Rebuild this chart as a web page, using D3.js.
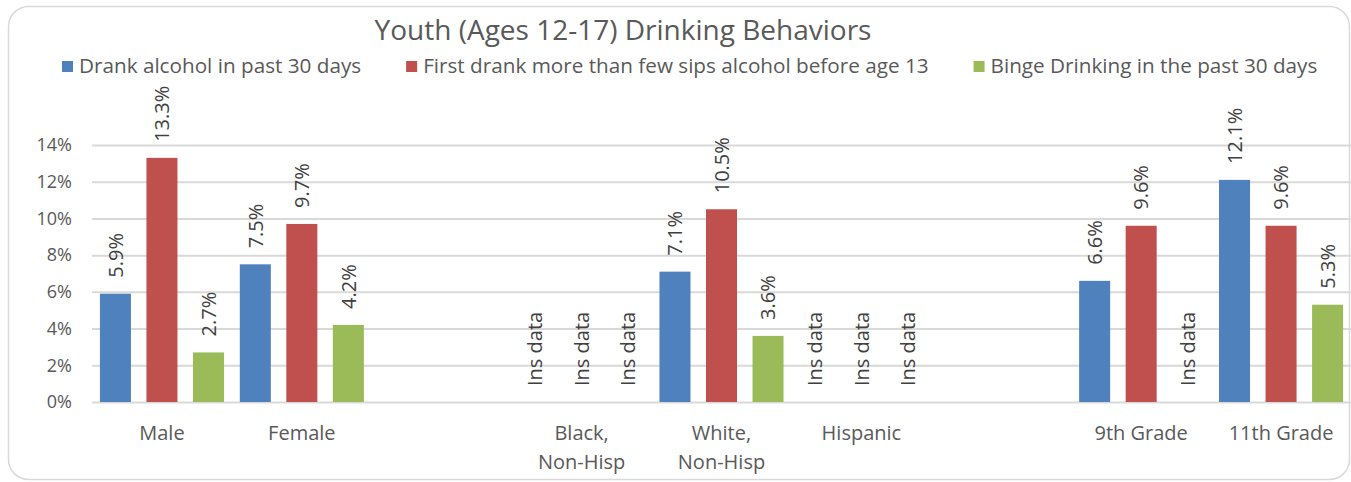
<!DOCTYPE html>
<html>
<head>
<meta charset="utf-8">
<script src="https://cdn.jsdelivr.net/npm/d3@7"></script>
<style>
  body { margin: 0; background: #fff; }
  text { font-family: "Open Sans", sans-serif; }
</style>
</head>
<body>
<div id="chart"></div>
<script>
// categories, "" = empty slot between groups
const categories = ["Male", "Female", "", "Black,\nNon-Hisp", "White,\nNon-Hisp", "Hispanic", "", "9th Grade", "11th Grade"];
const seriesNames = ["Drank alcohol in past 30 days", "First drank more than few sips alcohol before age 13", "Binge Drinking in the past 30 days"];
// values in %, null = insufficient data (or empty slot)
const drankPast30 = [5.9, 7.5, null, null, 7.1, null, null, 6.6, 12.1];
const firstBefore13 = [13.3, 9.7, null, null, 10.5, null, null, 9.6, 9.6];
const bingePast30 = [2.7, 4.2, null, null, 3.6, null, null, null, 5.3];
const yTicks = [0, 2, 4, 6, 8, 10, 12, 14];
const colors = ["#4F81BD", "#C0504D", "#9BBB59"];

const W = 1351, H = 482;
const margin = { top: 145, right: 0, bottom: 80, left: 92 };
const width = W - margin.left - margin.right;
const height = H - margin.top - margin.bottom;

const svg = d3.select("#chart").append("svg")
  .attr("width", W).attr("height", H);

// chart border
svg.append("rect")
  .attr("x", 8.5).attr("y", 6.5)
  .attr("width", 1341).attr("height", 473)
  .attr("rx", 20)
  .attr("fill", "#fff")
  .attr("stroke", "#d9d9d9")
  .attr("stroke-width", 1.5);

const g = svg.append("g")
  .attr("transform", "translate(" + margin.left + "," + margin.top + ")");

const x = d3.scaleBand().domain(d3.range(categories.length)).range([0, width]);
const xs = d3.scaleBand().domain([0, 1, 2]).range([0, x.bandwidth()])
  .paddingInner(1 / 3).paddingOuter(0.17);
const y = d3.scaleLinear().domain([0, 14]).range([height, 0]);

// y axis + gridlines
const yAxis = g.append("g")
  .call(d3.axisLeft(y).tickValues(yTicks).tickSize(-width).tickPadding(20).tickFormat(d => d + "%"));
yAxis.select(".domain").remove();
yAxis.selectAll("line").attr("stroke", "#d9d9d9").attr("stroke-width", 2);
yAxis.selectAll("text")
  .style("font-size", "18px")
  .attr("fill", "#595959");

const series = [drankPast30, firstBefore13, bingePast30];

series.forEach((vals, s) => {
  const grp = g.append("g");
  vals.forEach((v, i) => {
    if (categories[i] === "") return;
    const cx = x(i) + xs(s) + xs.bandwidth() / 2;
    if (v !== null) {
      grp.append("rect")
        .attr("x", x(i) + xs(s))
        .attr("y", y(v))
        .attr("width", xs.bandwidth())
        .attr("height", y(0) - y(v))
        .attr("fill", colors[s]);
    }
    const top = v === null ? y(0) : y(v);
    grp.append("text")
      .attr("transform", "translate(" + cx + "," + (top - 16) + ") rotate(-90)")
      .attr("dy", "0.36em")
      .style("font-size", "20px")
      .attr("fill", "#404040")
      .text(v === null ? "Ins data" : v.toFixed(1) + "%");
  });
});

// category labels
categories.forEach((c, i) => {
  if (c === "") return;
  const t = g.append("text")
    .attr("x", x(i) + x.bandwidth() / 2)
    .attr("y", height + 38)
    .attr("text-anchor", "middle")
    .style("font-size", "20px")
    .attr("fill", "#595959");
  c.split("\n").forEach((line, k) => {
    t.append("tspan")
      .attr("x", x(i) + x.bandwidth() / 2)
      .attr("dy", k === 0 ? 0 : 29)
      .text(line);
  });
});

// title
svg.append("text")
  .attr("x", 623).attr("y", 40)
  .attr("text-anchor", "middle")
  .style("font-size", "28px")
  .attr("fill", "#595959")
  .text("Youth (Ages 12-17) Drinking Behaviors");

// legend
const legend = svg.append("g");
let lx = 62;
seriesNames.forEach((name, s) => {
  legend.append("rect")
    .attr("x", lx).attr("y", 61)
    .attr("width", 11).attr("height", 11)
    .attr("fill", colors[s]);
  const t = legend.append("text")
    .attr("x", lx + 17).attr("y", 73)
    .style("font-size", "20.7px")
    .attr("fill", "#595959")
    .text(name);
  lx += 17 + t.node().getComputedTextLength() + 45;
});
</script>
</body>
</html>
